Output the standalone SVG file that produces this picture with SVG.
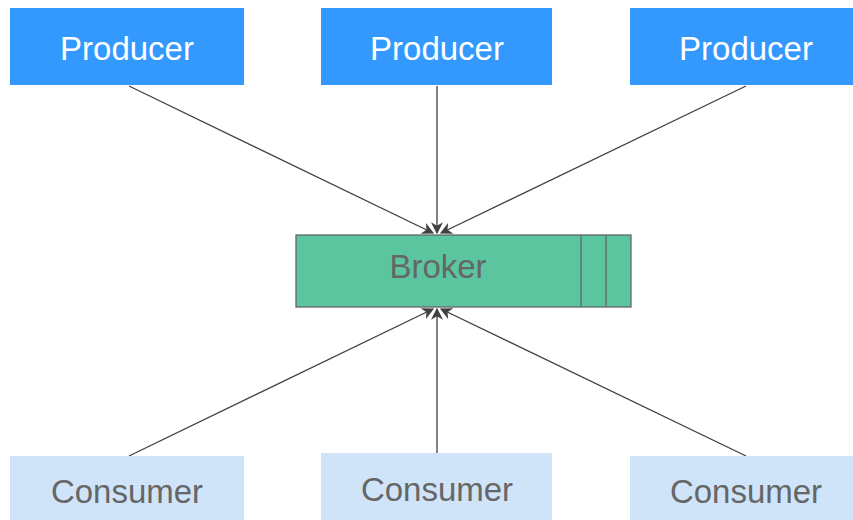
<svg xmlns="http://www.w3.org/2000/svg" width="853" height="520" viewBox="0 0 853 520">
<style>
.p{fill:#3399ff}
.c{fill:#cfe4f8}
.pt{font-family:"Liberation Sans",Arial,sans-serif;font-size:33px;fill:#ffffff;text-anchor:middle}
.ct{font-family:"Liberation Sans",Arial,sans-serif;font-size:33px;fill:#666666;text-anchor:middle}
.l{stroke:#404040;stroke-width:1.3;fill:none;marker-end:url(#b)}
</style>
<defs>
<marker id="b" viewBox="0 0 10 10" refX="9" refY="5" markerWidth="12" markerHeight="12" markerUnits="userSpaceOnUse" orient="auto"><path d="M0,0 L10,5 L0,10 L3,5 Z" fill="#404040"/></marker>
</defs>
<g id="connectors">
<path class="l" d="M129,86 L433,233"/>
<path class="l" d="M437,86 L437,233"/>
<path class="l" d="M746,86 L441,233"/>
<path class="l" d="M129,456 L433,309"/>
<path class="l" d="M437,453 L437,309"/>
<path class="l" d="M746,456 L441,309"/>
</g>
<g id="producer1"><rect class="p" x="10" y="8" width="234" height="77"/><text class="pt" x="127" y="60">Producer</text></g>
<g id="producer2"><rect class="p" x="321" y="8" width="231" height="77"/><text class="pt" x="437" y="60">Producer</text></g>
<g id="producer3"><rect class="p" x="630" y="8" width="233" height="77"/><text class="pt" x="746" y="60">Producer</text></g>
<g id="broker">
<rect x="296" y="235" width="335" height="72" fill="#5bc5a0" stroke="#666666" stroke-width="1.3"/>
<line x1="581" y1="235" x2="581" y2="307" stroke="#666666" stroke-width="1.3"/>
<line x1="606" y1="235" x2="606" y2="307" stroke="#666666" stroke-width="1.3"/>
<text class="ct" x="438" y="278">Broker</text>
</g>
<g id="consumer1"><rect class="c" x="10" y="456" width="234" height="64"/><text class="ct" x="127" y="503">Consumer</text></g>
<g id="consumer2"><rect class="c" x="321" y="453" width="231" height="67"/><text class="ct" x="437" y="501">Consumer</text></g>
<g id="consumer3"><rect class="c" x="630" y="456" width="233" height="64"/><text class="ct" x="746" y="503">Consumer</text></g>
</svg>
